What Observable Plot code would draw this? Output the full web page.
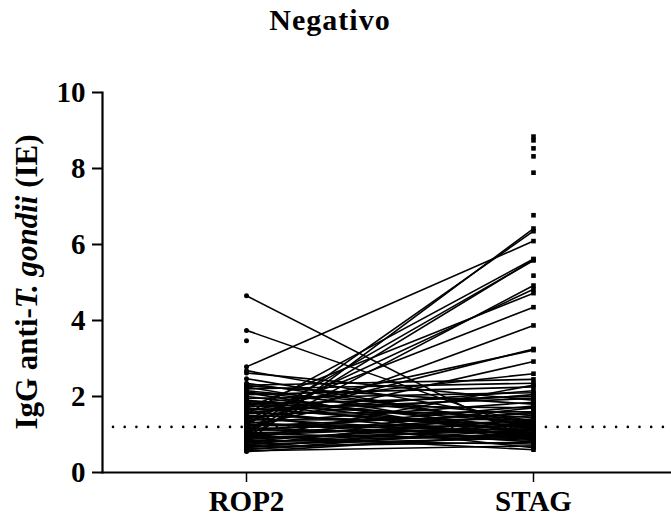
<!DOCTYPE html>
<html>
<head>
<meta charset="utf-8">
<script src="https://cdn.jsdelivr.net/npm/d3@7"></script>
<script src="https://cdn.jsdelivr.net/npm/@observablehq/plot@0.6"></script>
<style>
  body { margin: 0; background: #fff; }
  #title { width: 671px; height: 40px; line-height: 40px; text-align: center; padding-right: 11px; box-sizing: border-box;
    font-family: "Liberation Serif", "Times New Roman", serif; font-weight: bold; font-size: 30px; letter-spacing: 1px; color: #000; }
</style>
</head>
<body>
<div id="title">Negativo</div>
<div id="chart"></div>
<script>
const categories = ["ROP2", "STAG"];
const rop2 = [4.65, 3.74, 2.78, 2.68, 2.62, 2.47, 0.80, 1.05, 1.00, 1.25, 1.55, 0.95, 1.30, 1.70, 1.40, 1.10, 1.35, 1.60, 1.20, 1.80,
  2.30, 2.25, 2.20, 2.15, 2.10, 2.05, 2.00, 1.95, 1.90, 1.85, 1.80, 1.75, 1.70, 1.65, 1.60, 1.55, 1.50, 1.45, 1.42, 1.38,
  1.33, 1.30, 1.27, 1.22, 1.18, 1.15, 1.12, 1.08, 1.05, 1.02, 1.00, 0.97, 0.94, 0.92, 0.90, 0.87, 0.85, 0.82, 0.80, 0.78,
  0.75, 0.72, 0.70, 0.68, 0.65, 0.62, 0.60, 0.57, 0.55, 2.35, 2.28, 1.88, 1.58, 1.48, 1.25, 0.98, 1.78, 2.12, 0.88, 1.68];
const stag = [0.80, 1.10, 6.09, 1.35, 1.90, 1.20, 6.42, 6.35, 5.60, 5.58, 5.62, 4.92, 4.82, 4.72, 4.35, 3.87, 3.25, 3.22, 2.92, 2.60,
  2.45, 1.00, 2.35, 1.50, 0.90, 2.25, 1.15, 2.10, 1.30, 0.85, 2.00, 1.45, 1.10, 1.95, 0.95, 1.60, 1.25, 2.05, 1.00, 1.40,
  0.80, 1.85, 1.20, 1.55, 0.90, 1.35, 1.05, 1.75, 1.15, 0.85, 1.50, 1.30, 0.95, 1.70, 1.10, 1.25, 0.75, 1.40, 1.00, 1.20,
  0.90, 1.60, 1.05, 0.80, 1.30, 0.95, 1.15, 0.70, 1.00, 1.25, 1.80, 1.05, 2.15, 0.65, 1.10, 0.60, 1.70, 1.35, 2.30, 1.20];
const rop2Only = [3.47];
const stagOnly = [8.84, 8.74, 8.53, 8.32, 7.89, 6.77, 5.18];
const yTicks = [0, 2, 4, 6, 8, 10];
const cutoff = 1.2;

const pairs = rop2.map((v, i) => ({ a: v, b: stag[i] }));
const ropPts = rop2.concat(rop2Only).map(v => ({ g: categories[0], v }));
const stagPts = stag.concat(stagOnly).map(v => ({ g: categories[1], v }));

const serif = "Liberation Serif, Times New Roman, serif";

const plot = Plot.plot({
  width: 671,
  height: 477,
  marginTop: 52,
  marginBottom: 45,
  marginLeft: 102,
  marginRight: 0,
  style: { fontFamily: serif, fontWeight: "bold", color: "#000", background: "#fff", overflow: "visible" },
  x: { type: "point", domain: categories, range: [246, 533], padding: 0 },
  y: { domain: [0, 10], ticks: yTicks },
  marks: [
    Plot.ruleY([cutoff], { stroke: "#000", strokeWidth: 2.6, strokeDasharray: "0 11.7", strokeLinecap: "round", strokeDashoffset: -11 }),
    Plot.link(pairs, { x1: () => categories[0], x2: () => categories[1], y1: "a", y2: "b", stroke: "#000", strokeWidth: 1.6 }),
    Plot.dot(ropPts, { x: "g", y: "v", r: 2.5, fill: "#000", stroke: "none" }),
    Plot.dot(stagPts, { x: "g", y: "v", r: 2.6, symbol: "square", fill: "#000", stroke: "none" }),
    Plot.axisY({ ticks: yTicks, tickSize: 10, tickPadding: 7, fontSize: 29, strokeWidth: 2, label: null, tickFormat: d => String(d) }),
    Plot.axisX({ tickSize: 10, tickPadding: 8, fontSize: 29, strokeWidth: 1.5, label: null }),
    Plot.frame({ anchor: "left", strokeWidth: 2.2 }),
    Plot.frame({ anchor: "bottom", strokeWidth: 2.2 })
  ]
});

document.getElementById("chart").appendChild(plot);

const yScale = plot.scale("y");
const yc = (yScale.apply(0) + yScale.apply(10)) / 2;
const lab = d3.select(plot).append("text")
  .attr("transform", `translate(37, ${yc}) rotate(-90)`)
  .attr("text-anchor", "middle")
  .attr("font-family", serif)
  .attr("font-weight", "bold")
  .attr("font-size", 31)
  .attr("fill", "#000");
lab.append("tspan").text("IgG anti-");
lab.append("tspan").attr("font-style", "italic").text("T. gondii");
lab.append("tspan").text(" (IE)");
</script>
</body>
</html>
